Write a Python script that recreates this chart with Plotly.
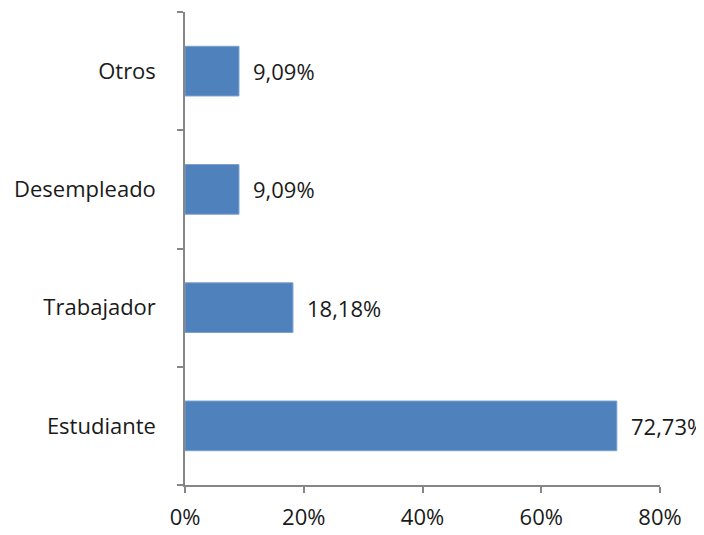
import plotly.graph_objects as go

categories = ["Estudiante", "Trabajador", "Desempleado", "Otros"]
values = [72.73, 18.18, 9.09, 9.09]
x_ticks = [0, 20, 40, 60, 80]
x_tick_labels = ["0%", "20%", "40%", "60%", "80%"]

labels = [f"{v:.2f}".replace(".", ",") + "%" for v in values]

FONT = "Open Sans"
FS = 22
TXT = "#1a1a1a"
AX = "#868686"

fig = go.Figure(
    go.Bar(
        y=categories,
        x=values,
        orientation="h",
        marker=dict(color="#4F81BD", line=dict(color="#7BA0CD", width=1)),
        hoverinfo="skip",
    )
)

for c, v, t in zip(categories, values, labels):
    fig.add_annotation(
        x=v, y=c, text=t, showarrow=False, xanchor="left", xshift=12,
        font=dict(family=FONT, size=FS, color=TXT),
    )

fig.update_layout(
    width=704,
    height=535,
    margin=dict(l=177, r=52, t=4, b=58),
    paper_bgcolor="white",
    plot_bgcolor="white",
    bargap=0.58,
    showlegend=False,
    font=dict(family=FONT, size=FS, color=TXT),
)
fig.update_xaxes(
    range=[0, 80],
    tickvals=x_ticks,
    ticktext=x_tick_labels,
    showgrid=False,
    zeroline=False,
    showline=True,
    linecolor=AX,
    linewidth=1.5,
    ticks="outside",
    ticklen=6,
    tickcolor=AX,
    tickwidth=1.5,
    ticklabelstandoff=6,
    fixedrange=True,
)
fig.update_yaxes(
    categoryorder="array",
    categoryarray=categories,
    showgrid=False,
    zeroline=False,
    showline=True,
    linecolor=AX,
    linewidth=1.5,
    ticks="outside",
    tickson="boundaries",
    ticklen=6,
    tickcolor=AX,
    tickwidth=1.5,
    ticklabelstandoff=23,
    fixedrange=True,
)

fig.write_html("out.html")
